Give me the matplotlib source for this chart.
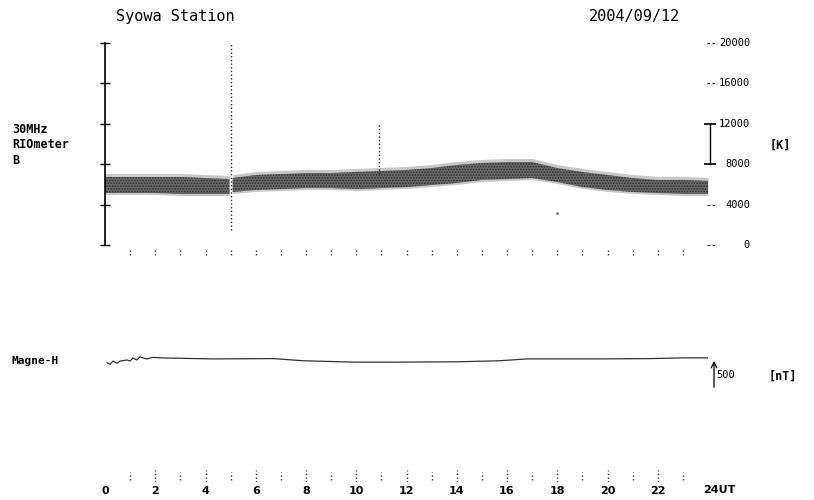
import matplotlib
matplotlib.use("Agg")
import matplotlib.pyplot as plt
from matplotlib.transforms import blended_transform_factory

# ---- data ----
# riometer band (K), upper / lower edge of the dense trace, gap at ~05 UT
rio_hours_a = [0, 1, 2, 3, 4, 4.95]
rio_upper_a = [6730, 6730, 6730, 6730, 6630, 6530]
rio_lower_a = [5150, 5150, 5150, 5050, 5050, 5050]

rio_hours_b = [5.08, 6, 7, 8, 9, 10, 11, 12, 13, 14, 15, 16, 17, 18, 19, 20, 21, 22, 23, 24]
rio_upper_b = [6630, 6930, 7030, 7130, 7130, 7230, 7330, 7430, 7620, 7920, 8120, 8220, 8220, 7620,
               7230, 6930, 6630, 6440, 6440, 6340]
rio_lower_b = [5250, 5450, 5540, 5640, 5640, 5540, 5640, 5740, 5940, 6140, 6440, 6530, 6630, 6240,
               5740, 5450, 5250, 5150, 5050, 5050]

# spikes (hour, low K, high K)
spike_hours = [5.02, 10.9]
spike_low = [1500, 7000]
spike_high = [20000, 12000]

outlier_hours = [18.0]
outlier_vals = [3200]

# Magne-H (nT, relative)
mag_hours = [0.08, 0.2, 0.32, 0.48, 0.6, 0.88, 1.0, 1.11, 1.27, 1.39, 1.51, 1.67, 1.91, 2.19,
             4.3, 6.7, 7.9, 9.9, 11.7, 14.0, 15.7, 16.8, 19.7, 21.7, 23.0, 24.0]
mag_vals = [-42, -67, -17, -50, -17, 0, -17, 33, 0, 50, 33, 17, 42, 33,
            17, 22, -12, -33, -33, -28, -12, 17, 17, 22, 33, 33]

rio_ticks = [0, 4000, 8000, 12000, 16000, 20000]
hour_labels = ["0", "2", "4", "6", "8", "10", "12", "14", "16", "18", "20", "22"]

mono = "DejaVu Sans Mono"
narrow = ["Liberation Sans Narrow", "DejaVu Sans"]
plt.rcParams["hatch.linewidth"] = 0.8

W, H = 814, 500
fig = plt.figure(figsize=(W / 100, H / 100), dpi=100)


def box(x0, y0, x1, y1):
    return [x0 / W, 1 - y1 / H, (x1 - x0) / W, (y1 - y0) / H]


# ---- riometer panel ----
ax = fig.add_axes(box(105, 43, 708, 245))
ax.set_xlim(0, 24)
ax.set_ylim(0, 20000)
for s in ["top", "right", "bottom"]:
    ax.spines[s].set_visible(False)
ax.spines["left"].set_linewidth(1.2)
ax.set_yticks(rio_ticks)
ax.tick_params(axis="y", direction="inout", length=7, width=1.0, labelleft=False)
ax.set_xticks([])

# fuzzy edge, then the dense stippled trace
for hrs, up, lo in [(rio_hours_a, rio_upper_a, rio_lower_a), (rio_hours_b, rio_upper_b, rio_lower_b)]:
    ax.fill_between(hrs, [v + 350 for v in up], [v - 150 for v in lo], color="#c8c8c8", lw=0)
    ax.fill_between(hrs, up, lo, facecolor="#6a6a6a", edgecolor="#2e2e2e", hatch="......", lw=0)

ax.vlines(spike_hours, spike_low, spike_high, colors="#222222", linestyles=":", lw=1.0)
ax.plot(outlier_hours, outlier_vals, ".", color="#777777", ms=2)

# hour marks under the panel
ax.vlines(range(1, 24), -1000, -250, colors="#333333", linestyles=":", lw=1.0, clip_on=False)

# right side scale
for v in rio_ticks:
    ax.text(750 / W, v, str(v), transform=blended_transform_factory(fig.transFigure, ax.transData),
            ha="right", va="center", fontsize=7.5, family=mono)
    if v not in (8000, 12000):
        ax.plot([23.96, 24.28], [v, v], color="#333333", lw=0.9, ls=(0, (2, 2)), clip_on=False)
ax.plot([24.08, 24.08], [8000, 12000], color="black", lw=1.0, clip_on=False)
ax.plot([24.08, 24.08], [8000, 12000], "_", color="black", ms=8, mew=1.2, clip_on=False)

# ---- Magne-H panel ----
ax2 = fig.add_axes(box(105, 296, 708, 424))
ax2.set_xlim(0, 24)
ax2.set_ylim(-1000, 1000)
ax2.axis("off")
ax2.plot(mag_hours, mag_vals, color="#333333", lw=0.9)
ax2.annotate("", xy=(24.24, 30), xytext=(24.24, -470),
             arrowprops=dict(arrowstyle="->", lw=0.9, color="black"), annotation_clip=False)
ax2.text(24.32, -240, "500", fontsize=7.5, family=mono, va="center", ha="left", clip_on=False)

# ---- time axis ----
ax3 = fig.add_axes(box(105, 470, 708, 482))
ax3.set_xlim(0, 24)
ax3.set_ylim(0, 1)
for s in ax3.spines.values():
    s.set_visible(False)
ax3.set_yticks([])
ax3.set_xticks(range(0, 24, 2))
ax3.set_xticklabels(hour_labels, family=narrow, fontsize=8, fontweight="bold")
ax3.tick_params(axis="x", length=0, pad=3)
ax3.vlines(range(2, 24, 2), 0.0, 1.0, colors="#333333", linestyles=":", lw=1.0)
ax3.vlines(range(1, 24, 2), 0.2, 0.85, colors="#333333", linestyles=":", lw=1.0)
ax3.text(23.8, -0.25, "24UT", family=narrow, fontsize=8, fontweight="bold",
         ha="left", va="top", clip_on=False)

# ---- texts ----
fig.text(116 / W, 1 - 17 / H, "Syowa Station", family=mono, fontsize=11, va="center")
fig.text(589 / W, 1 - 17 / H, "2004/09/12", family=mono, fontsize=11, va="center")
fig.text(12 / W, 1 - 145 / H, "30MHz\nRIOmeter\nB", family=mono, fontsize=8.5,
         fontweight="bold", va="center", linespacing=1.25)
fig.text(770 / W, 1 - 145 / H, "[K]", family=mono, fontsize=8.5, fontweight="bold", va="center")
fig.text(12 / W, 1 - 361 / H, "Magne-H", family=mono, fontsize=8, fontweight="bold", va="center")
fig.text(769 / W, 1 - 376 / H, "[nT]", family=mono, fontsize=8.5, fontweight="bold", va="center")

fig.savefig("out.png", dpi=100, facecolor="white")
